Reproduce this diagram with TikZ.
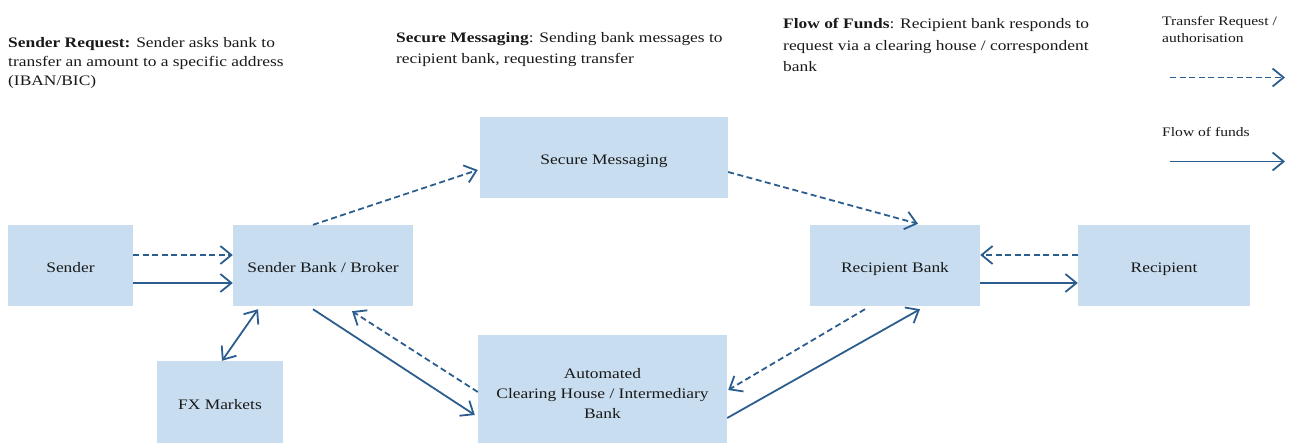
\documentclass[tikz,border=0pt]{standalone}
\usepackage{fontspec}
\setmainfont{Liberation Serif}[FakeStretch=1.2]
\usetikzlibrary{arrows.meta}
\definecolor{boxblue}{RGB}{200,222,240}
\definecolor{linkblue}{RGB}{44,93,143}

\begin{document}
\begin{tikzpicture}[
      x=1pt, y=-1pt,
      box/.style={
        fill=boxblue, inner sep=2pt, align=center, text=black!90,
        text height=14pt, text depth=0pt,
        font=\fontsize{14.5}{20}\selectfont
      },
      note/.style={
        anchor=base west, inner sep=0pt, align=left, text=black!90,
        font=\fontsize{14.5}{21.5}\selectfont
      },
      key/.style={
        anchor=base west, inner sep=0pt, align=left, text=black!90,
        font=\fontsize{13}{16.5}\selectfont
      },
      link/.style={draw=linkblue, line width=1.8pt},
      request/.style={link, ->, dash pattern=on 6pt off 3.5pt},
      funds/.style={link, ->},
      >={Straight Barb[length=11pt,width=18pt]}
      ]
  \useasboundingbox (0,0) rectangle (1290,443);

  % Define nodes
  \node[box, minimum width=125pt, minimum height=81pt] (sender) at (70.5,265.5) {Sender};
  \node[box, minimum width=180pt, minimum height=81pt] (sbank)  at (323,265.5) {Sender Bank / Broker};
  \node[box, minimum width=248pt, minimum height=81pt] (secure) at (604,157.5) {Secure Messaging};
  \node[box, minimum width=170pt, minimum height=81pt] (rbank)  at (895,265.5) {Recipient Bank};
  \node[box, minimum width=172pt, minimum height=81pt] (recip)  at (1164,265.5) {Recipient};
  \node[box, minimum width=126pt, minimum height=82pt] (fx)     at (220,402) {FX Markets};
  \node[box, minimum width=249pt, minimum height=108pt, text height=58pt] (ach) at (602.5,389)
    {Automated\\Clearing House / Intermediary\\Bank};

  % Notes (anchored at the last line)
  \node[note, font=\fontsize{14.5}{19}\selectfont] (sendnote) at (8,86)
    {\textbf{Sender Request:} Sender asks bank to\\transfer an amount to a specific address\\(IBAN/BIC)};
  \node[note] (securenote) at (396,64) {\textbf{Secure Messaging}: Sending bank messages to\\recipient bank, requesting transfer};
  \node[note] (fundsnote)  at (783,72) {\textbf{Flow of Funds}: Recipient bank responds to\\request via a clearing house / correspondent\\bank};

  % Legend
  \node[key] (keyreq)  at (1162,42.5)  {Transfer Request /\\authorisation};
  \node[key] (keyfund) at (1162,136.5) {Flow of funds};
  \coordinate (req a)  at (1170,77.5);
  \coordinate (req b)  at (1285,77.5);
  \coordinate (fund a) at (1170,161.5);
  \coordinate (fund b) at (1285,161.5);
  \draw[request] (req a) -- (req b);
  \draw[funds] (fund a) -- (fund b);

  % Connect the nodes
  \draw[request] ([yshift=10.5pt]sender.east) -- ([yshift=10.5pt]sbank.west);
  \draw[funds] ([yshift=-17.5pt]sender.east) -- ([yshift=-17.5pt]sbank.west);
  \draw[request] ([xshift=-10pt]sbank.north) -- ([xshift=-2pt,yshift=-12.5pt]secure.west);
  \draw[request] ([yshift=-14.5pt]secure.east) -- ([xshift=23pt,yshift=1pt]rbank.north);
  \draw[request] ([yshift=10.5pt]recip.west) -- ([yshift=10.5pt]rbank.east);
  \draw[funds] ([yshift=-17.5pt]rbank.east) -- ([yshift=-17.5pt]recip.west);
  \draw[link, <->] ([xshift=2pt]fx.north) -- ([xshift=-65pt,yshift=-3pt]sbank.south);
  \draw[funds] ([xshift=-10pt,yshift=-3pt]sbank.south) -- ([xshift=-3pt,yshift=-26pt]ach.west);
  \draw[request] ([yshift=-3pt]ach.west) -- ([xshift=29pt,yshift=-5pt]sbank.south);
  \draw[request] ([xshift=-30pt,yshift=-3pt]rbank.south) -- ([xshift=1pt,yshift=-1pt]ach.east);
  \draw[funds] ([yshift=-29pt]ach.east) -- ([xshift=25pt,yshift=-3pt]rbank.south);

\end{tikzpicture}
\end{document}
